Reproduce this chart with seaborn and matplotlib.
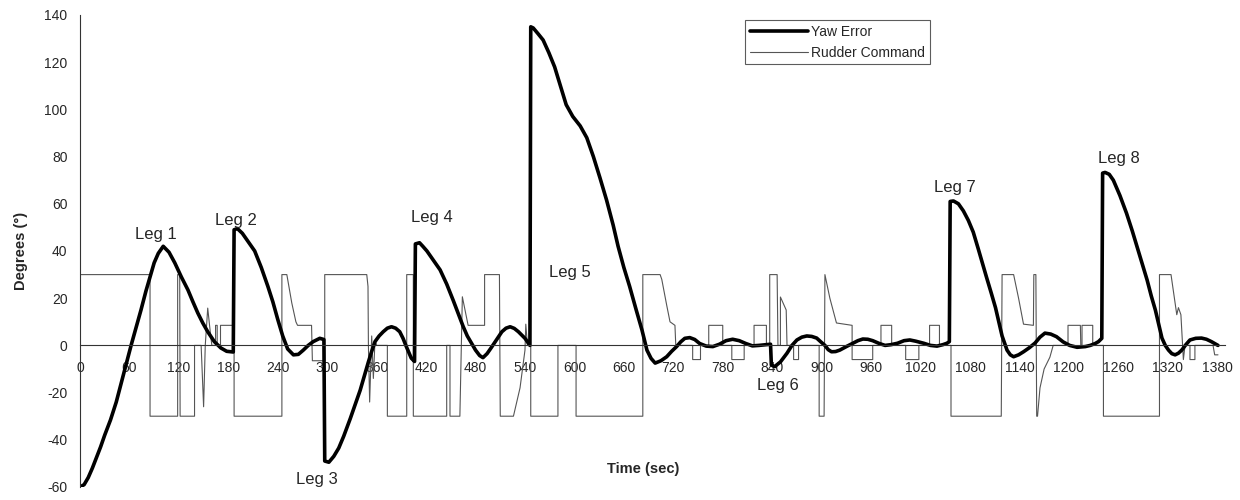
import numpy as np
import seaborn as sns
import matplotlib.pyplot as plt

# yaw error (deg), time in seconds
yaw_t = [0, 5, 10, 15, 20, 25, 30, 37, 44, 50, 56, 62, 68, 74, 80, 85, 90, 95, 101, 108, 115, 123, 131, 137, 143,
         149, 155, 163, 171, 178, 186,
         187, 191, 197, 204, 212, 220, 228, 234, 240, 246, 252, 259, 265, 271, 277, 283, 291, 296,
         297, 302, 308, 314, 320, 328, 334, 340, 345, 350, 354, 358, 363, 368, 373, 378, 383, 388, 392, 396, 402, 406,
         407, 412, 416, 421, 429, 437, 445, 453, 459, 465, 470, 475, 480, 485, 489, 494, 499, 504, 512, 517, 522, 527,
         532, 540, 546,
         547, 550, 556, 562, 569, 576, 583, 590, 598, 607, 615, 623, 631, 639, 647, 653, 660, 667, 675, 682, 688, 693,
         698, 705, 712, 718, 724, 729, 734, 740, 746, 752, 760, 768, 776, 784, 792, 800, 808, 816, 824, 832, 838,
         839, 843, 850, 858, 864, 870, 876, 882, 888, 894, 899, 904, 908, 912, 917, 922, 930, 938, 944, 950, 956, 962,
         970, 977, 984, 992, 1000, 1007, 1014, 1024, 1032, 1040, 1047, 1052, 1055,
         1056, 1060, 1066, 1072, 1078, 1084, 1090, 1095, 1100, 1106, 1111, 1115, 1119, 1125, 1129, 1133, 1139, 1145,
         1152, 1159, 1165, 1171, 1178, 1185, 1193, 1201, 1210, 1220, 1226, 1232, 1236, 1240,
         1241, 1244, 1249, 1254, 1262, 1270, 1277, 1284, 1290, 1295, 1300, 1305, 1309, 1313, 1317, 1321, 1325, 1329,
         1333, 1337, 1342, 1347, 1354, 1361, 1367, 1373, 1381]
yaw_v = [-60, -59, -56, -52, -47.5, -43, -38, -31.6, -24, -16, -8, 0, 7.5, 15, 23, 29, 35, 39, 42, 39.5, 35, 29, 23.5,
         18.5, 13.7, 9.5, 5.8, 1.6, -1.1, -2.5, -2.8,
         49, 49.5, 47.5, 44, 40, 33, 25, 18.5, 11, 4, -1.5, -4, -3.8, -2, 0, 1.6, 3, 2.5,
         -49, -49.5, -47, -43.5, -38.5, -31, -25, -19, -13, -7, -2.5, 1.6, 4, 5.8, 7.3, 7.9, 7.3, 5.8, 3, -0.5, -5.4,
         -6.8,
         43, 43.5, 42, 40, 36, 32, 26, 19, 13.5, 8, 4, 1, -2, -4.3, -5.2, -3.5, -1, 1.6, 5.8, 7.3, 7.9, 7.2, 5.8, 3, 0,
         135, 134.5, 132, 129.4, 124, 118, 110, 102, 97, 93, 88, 80, 71, 61.6, 51, 42, 33, 25, 15, 6.5, -2, -5.5,
         -7.5, -6.5, -4.8, -2.5, -0.5, 1.5, 3, 3.3, 2.5, 0.8, -0.3, -0.5, 0.5, 2, 2.6, 2, 0.8, -0.2, 0, 0.3, 0.5,
         -8.3, -9, -7, -3.3, 0, 2.3, 3.5, 4, 3.8, 3.1, 1.5, 0, -1.8, -2.7, -2.6, -2, -0.5, 0.9, 2, 2.7, 2.6, 2,
         0.8, 0, 0.3, 0.9, 2, 2.3, 1.8, 0.9, 0, -0.3, 0.3, 0.9, 1.6,
         61, 61.2, 60, 57, 53, 48, 41, 35, 29, 22, 16, 10, 4, -2, -4, -4.8, -4, -2.7,
         -1, 1, 3.5, 5.2, 4.8, 3.7, 1.5, 0, -0.8, -0.5, 0, 0.8, 1.6, 3,
         73, 73.3, 72.5, 70, 63.5, 56, 48.5, 40.4, 33.5, 27.7, 21, 15, 9, 3.1, 0, -2, -3.5, -4,
         -3.3, -2, 0.3, 2.3, 3, 3.1, 2.6, 1.6, 0]

# rudder command (deg)
rud_t = [0, 85, 85, 118.5, 118.5, 121, 121.5, 139, 139, 147, 150, 152, 155, 158, 160, 164.5, 164.5, 166.5, 166.5,
         170.5, 170.5, 187, 187, 245, 245, 251, 257, 262, 264, 281, 282, 297, 297, 348, 349.5, 350, 351.5, 354, 356,
         358, 360, 373, 373, 396.5, 396.5, 404.5, 404.5, 445, 445, 449, 449, 461, 464, 471, 491, 491, 509, 510, 526,
         534, 540, 541, 543, 547, 547, 580, 580, 602, 602, 683, 683, 704, 706, 712, 716, 722, 723, 743.5, 743.5, 753,
         753, 763, 763, 780, 780, 791, 791, 806, 806, 818, 818, 833, 833, 837, 837, 846, 847, 850, 850, 857, 858, 866,
         866, 872, 872, 897, 897, 903, 904, 910, 918, 937, 937, 962, 962, 972, 972, 985, 985, 1002, 1002, 1018, 1018,
         1031, 1031, 1043, 1043, 1057, 1057, 1118, 1119, 1133, 1139, 1145, 1157, 1157.5, 1160, 1161, 1162, 1165,
         1170, 1177, 1181, 1199, 1199, 1214, 1214.5, 1216, 1216, 1229, 1229, 1242, 1242, 1310, 1310, 1324, 1331,
         1333, 1336, 1339, 1341, 1347, 1347, 1353, 1353, 1375, 1377, 1381]
rud_v = [30, 30, -30, -30, 30, 30, -30, -30, 0, 0, -26, 0, 15.8, 6, 0, 0, 8.5, 8.5, 0,
         0, 8.5, 8.5, -30, -30, 30, 30, 18, 10, 8.5, 8.5, -6.5, -6.5, 30, 30, 25, 0, -24, 4, -14,
         2, 0, 0, -30, -30, 30, 30, -30, -30, 0, 0, -30, -30, 20.6, 8.5, 8.5, 30, 30, -30, -30,
         -18, -2, 9, 0, 0, -30, -30, 0, 0, -30, -30, 30, 30, 28, 17, 10, 8.5, 0, 0, -6, -6,
         0, 0, 8.5, 8.5, 0, 0, -6, -6, 0, 0, 8.5, 8.5, 0, 0, 30, 30, 0, 0, 20.5, 15, 0, 0,
         -6, -6, 0, 0, -30, -30, 30, 20, 9.5, 8.5, -6, -6, 0, 0, 8.5, 8.5, 0, 0, -6, -6, 0,
         0, 8.5, 8.5, 0, 0, -30, -30, 30, 30, 20, 9, 8.5, 30, 30, -30, -30, -18,
         -10, -5, 0, 0, 8.5, 8.5, 0, 0, 8.5, 8.5, 0, 0, -30, -30, 30, 30, 13,
         16, 13, -6, 0, 0, -6, -6, 0, 0, -4, -4]

x_ticks = list(range(0, 1381, 60))
y_ticks = list(range(-60, 141, 20))

leg_names = ['Leg 1', 'Leg 2', 'Leg 3', 'Leg 4', 'Leg 5', 'Leg 6', 'Leg 7', 'Leg 8']
leg_x = [92, 189, 288, 427, 595, 847, 1062, 1261]
leg_y = [47, 53, -57, 54, 31, -17, 67, 79]

sns.set_style('white')
plt.rcParams['font.family'] = ['Liberation Sans', 'DejaVu Sans']
plt.rcParams['axes.unicode_minus'] = False

fig = plt.figure(figsize=(12.4, 5), dpi=100)
ax = fig.add_axes([80 / 1240, 13 / 500, 1145.4 / 1240, 472 / 500])

# thin rudder line underneath, thick yaw error on top
sns.lineplot(x=rud_t, y=rud_v, ax=ax, color='#555555', linewidth=0.8,
             estimator=None, sort=False, label='Rudder Command')
sns.lineplot(x=yaw_t, y=yaw_v, ax=ax, color='black', linewidth=2.6,
             estimator=None, sort=False, label='Yaw Error')

ax.set_xlim(0, 1390)
ax.set_ylim(-60, 140)
ax.set_xticks(x_ticks)
ax.set_yticks(y_ticks)
ax.tick_params(axis='both', direction='inout', length=8, width=0.8, color='#333333', labelsize=10)
ax.tick_params(axis='x', pad=7)
ax.tick_params(axis='y', pad=5)

# excel style: x axis crosses at zero, no box
ax.spines['bottom'].set_position(('data', 0))
for side in ['top', 'right']:
    ax.spines[side].set_visible(False)
for side in ['left', 'bottom']:
    ax.spines[side].set_color('#333333')
    ax.spines[side].set_linewidth(0.8)

ax.set_xlabel('Time (sec)', fontsize=10.5, fontweight='bold')
ax.xaxis.set_label_coords(0.4915, 0.053)
ax.set_ylabel('Degrees (°)', fontsize=10.5, fontweight='bold')
ax.yaxis.set_label_coords(-0.045, 0.5)

for name, lx, ly in zip(leg_names, leg_x, leg_y):
    ax.text(lx, ly, name, fontsize=12, ha='center', va='center')

handles, labels = ax.get_legend_handles_labels()
leg = ax.legend(handles[::-1], labels[::-1], loc='upper left', bbox_to_anchor=(0.5806, 0.99),
                fontsize=10, frameon=True, fancybox=False, handlelength=4.2, handletextpad=0.2,
                borderpad=0.35, labelspacing=0.5, borderaxespad=0)
leg.get_frame().set_edgecolor('#333333')
leg.get_frame().set_linewidth(0.8)

plt.savefig('out.png', dpi=100)
